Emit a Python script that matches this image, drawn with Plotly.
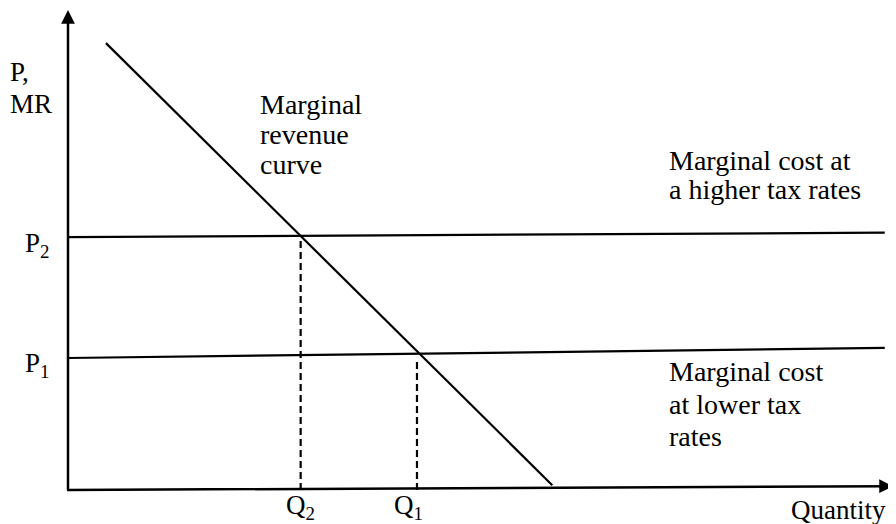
import plotly.graph_objects as go

# ---- data (diagram units: quantity 0..100, price 0..100) ----
mr_q = [4.6, 58.7]          # marginal revenue curve endpoints (quantity)
mr_p = [93.1, 1.0]          # marginal revenue curve endpoints (price)
mc_high_q = [0.0, 99.0]
mc_high_p = [52.7, 53.6]    # marginal cost at a higher tax rate (P2)
mc_low_q = [0.0, 99.0]
mc_low_p = [27.5, 29.6]     # marginal cost at lower tax rates (P1)
q2 = 28.2
q1 = 42.3
p2 = 52.7
p1 = 27.5
x_axis_end = 100.0
y_axis_end = 100.0

FONT = "Liberation Serif, Times New Roman, serif"

fig = go.Figure()

line = dict(color="black", width=2.2)
fig.add_trace(go.Scatter(x=mr_q, y=mr_p, mode="lines", line=line, hoverinfo="skip"))
fig.add_trace(go.Scatter(x=mc_high_q, y=mc_high_p, mode="lines", line=line, hoverinfo="skip"))
fig.add_trace(go.Scatter(x=mc_low_q, y=mc_low_p, mode="lines", line=line, hoverinfo="skip"))
dash = dict(color="black", width=2.2, dash="7px,4px")
fig.add_trace(go.Scatter(x=[q2, q2], y=[0, p2], mode="lines", line=dash, hoverinfo="skip"))
fig.add_trace(go.Scatter(x=[q1, q1], y=[0, p1], mode="lines", line=dash, hoverinfo="skip"))

# axes with arrows
fig.add_annotation(x=0, y=y_axis_end, ax=0, ay=-0.3, xref="x", yref="y", axref="x", ayref="y",
                   text="", showarrow=True, arrowhead=2, arrowsize=1.1, arrowwidth=2.5,
                   arrowcolor="black", standoff=0)
fig.add_annotation(x=x_axis_end, y=0.8, ax=-0.3, ay=0, xref="x", yref="y", axref="x", ayref="y",
                   text="", showarrow=True, arrowhead=2, arrowsize=1.1, arrowwidth=2.5,
                   arrowcolor="black", standoff=0)

def label(x, y, text, size=28, anchor="left"):
    fig.add_annotation(x=x, y=y, xref="x", yref="y", text=text, showarrow=False,
                       xanchor=anchor, yanchor="middle",
                       font=dict(family=FONT, size=size, color="black"))

label(-7.27, 87.0, "P,", 27)
label(-7.27, 80.5, "MR", 27)
label(-5.5, 51.0, "P<sub>2</sub>", 27)
label(-5.5, 26.0, "P<sub>1</sub>", 27)
label(q2, -3.6, "Q<sub>2</sub>", 27, "center")
label(q1 - 1.0, -3.6, "Q<sub>1</sub>", 27, "center")
label(87.4, -4.2, "Quantity", 27)

label(23.0, 80.3, "Marginal", 28)
label(23.0, 74.0, "revenue", 28)
label(23.0, 67.8, "curve", 28)

label(72.6, 68.6, "Marginal cost at", 28)
label(72.6, 62.6, "a higher tax rates", 28)

label(72.6, 24.6, "Marginal cost", 28)
label(72.6, 17.8, "at lower tax", 28)
label(72.6, 11.2, "rates", 28)

# page body has an 8px margin: the figure sits at page (8, 8)
fig.update_layout(
    width=888, height=516,
    margin=dict(l=0, r=0, t=0, b=0),
    paper_bgcolor="white", plot_bgcolor="white",
    showlegend=False,
    xaxis=dict(range=[(8 - 68) / 8.25, (896 - 68) / 8.25], visible=False, fixedrange=True),
    yaxis=dict(range=[(490 - 524) / 4.8, (490 - 8) / 4.8], visible=False, fixedrange=True),
)

fig.write_html("out.html")
